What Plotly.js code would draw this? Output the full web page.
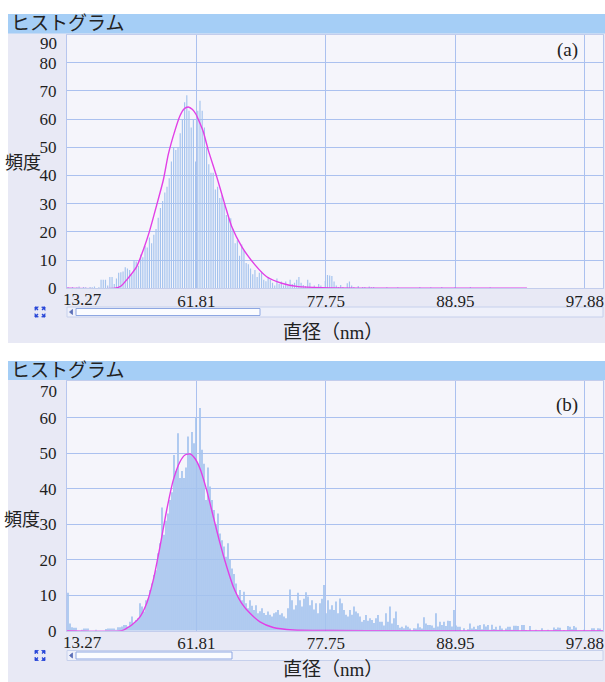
<!DOCTYPE html>
<html>
<head>
<meta charset="utf-8">
<script src="https://cdn.plot.ly/plotly-3.0.1.min.js"></script>
<style>
html,body{margin:0;padding:0;background:#ffffff;}
#chart{width:605px;height:682px;}
</style>
</head>
<body>
<div id="chart"></div>
<script>
// ---------- DATA ----------
// x tick labels: diameters (nm); the axis is linear in volume (d^3)
const tickDiameters = [13.27, 61.81, 77.75, 88.95, 97.88];
const tickLabels = ['13.27', '61.81', '77.75', '88.95', '97.88'];
const yTicksA = [0, 10, 20, 30, 40, 50, 60, 70, 80, 90];
const yTicksB = [0, 10, 20, 30, 40, 50, 60, 70];

// Panel (a): frequency per bin (bins evenly spaced on the volume axis)
const countsA = [
  0.4,0,0.5,0,0.4,0.6,0,0.5,0.4,0,0.5,0.4,0.6,0,0.4,
  3,3,3,1,4,4,1.5,3.5,5.5,5.7,6,7.5,7,6.5,5,
  10,9.5,8,12,11,15,14.5,18,16,19,21,25,28.5,31,34,
  36,39,45,50,49,50,55,60,66,68.5,63,57,60,45,63,
  66.5,63,57,50,44,41,41,35,36,32,33,30,26,25,24.8,
  21,16,17,11.5,15.5,13.5,9,8.5,7,5,6.5,4,5.5,6,3,
  2.5,4,3,2,1,3.5,1.5,2.4,1,2.4,1,3,1.5,2,3,
  4,2,1.2,0.8,3,2,0.5,1,0.5,1.5,1,0.5,2.6,4.7,4.5,
  4.4,2.4,1,0.5,1.2,0.5,0,1.8,2.4,1,0.5,0,0.8,0,0.5,
  0.5,0,0.6,0.4,0.5,0,0,0,0,0,0.4,0,0,0,0,
  0.4,0,0,0,0,0,0,0,0,0,0.5,0,0,0,0,
  0.4,0,0,0,0,0.5,0,0,0,0,0,0.4,0,0,0,
  0,0,0,0.5,0,0,0,0,0,0,0,0,0.4,0,0
];
// Panel (b): frequency per bin
const countsB = [
  10.7,2,1,0.8,0.8,0,0,0.3,0.6,0.6,0.6,0,0,0,0.3,0,0,0,0,0.5,
  0.6,0.6,0.6,0.6,0.3,1,1,1.2,1.6,1.6,1.2,2.5,4,2.2,3,3.5,7.7,6.8,5.4,8.6,
  9,11.5,13.3,15.7,17,21.8,24.6,34.7,27,31,33,36.8,39,49.5,45,55.6,43,45,43,46,
  54.7,50,56,52.8,60,47,62.7,51,47,36.8,46,40.6,36.8,34,30,33,27.4,25.5,23.7,20.8,
  24.6,19.9,17.5,16,13.3,9.6,11.5,8.6,11,7.7,6.3,8.6,7,5.8,7.2,4.9,5.5,6.3,5,4.4,
  5.4,4.5,4,4.9,5.2,5.8,4.5,4.9,4,3.5,6.3,11.6,8.6,6,7.2,10.7,8.6,6.8,9,10.8,
  9.6,7.2,8.6,6,7.7,4.9,7.7,9,12.9,4.9,8.6,6,7.2,5.8,8.2,4.9,9.1,7.7,5.8,4.5,
  4,5.8,4.5,6.8,5.4,4.9,4,2.5,3,4.4,2.8,3.5,3,2.2,3.5,4.4,2.5,2.5,1.5,4.9,
  2.5,6.8,2,3.5,5.4,1.6,0.8,1.1,0.7,1.5,1.1,0.6,0,0.7,0.6,2,1,0.6,3.8,2,
  1.6,1.6,1.5,0.8,4.9,1.2,2.5,1.6,2.5,1.3,2.8,2.7,1.2,5.8,1.5,1.1,1.1,0,0.7,0,
  0.4,2,0.6,1.1,0.5,1.4,1.6,0.4,1.8,1.2,1.6,0.3,1.7,0.5,1.1,0.3,1.4,0.6,0,0.6,
  1.1,1.1,0.3,1.4,1.4,1.3,0,1.6,1.6,0.2,0,1.3,0,0,0.3,0,0,0.7,0,0,
  0.3,0,0,0.9,0.5,0.9,0.8,0,0.2,0,1.3,1.1,0.4,1.3,0.9,0,0,0,0.3,0,
  0,0,0.7,0.7,0,0.7,0.6,0
];
// Fitted curves (x in volume units 10^3 nm^3, y frequency)
const fitAx = [2.3, 89.0, 100.0, 110.2, 128.2, 140.1, 151.0, 164.3, 176.3, 185.3, 197.4, 206.4, 213.6, 221.4, 229.0, 235.0, 242.5, 248.5, 257.5, 272.7, 287.7, 299.8, 317.9, 341.9, 363.0, 390.1, 420.1, 462.3, 531.5, 833.1];
const fitAy = [0, 0, 0.8, 3, 7.7, 13.6, 20, 29.5, 38.4, 47.5, 56, 61.2, 63.6, 64.3, 63.4, 61.8, 58.5, 55.5, 49, 39.6, 29.5, 21.9, 14.8, 8.3, 4.1, 1.8, 0.6, 0.2, 0.05, 0];
const fitBx = [2.3, 101.1, 110.2, 119.2, 134.2, 146.3, 158.2, 170.3, 182.4, 194.3, 206.4, 215.4, 224.5, 233.5, 242.5, 254.6, 266.6, 278.7, 290.8, 302.7, 317.9, 332.9, 350.9, 374.9, 411.0, 477.3, 603.8, 970.4];
const fitBy = [0, 0, 0.7, 1.6, 3.9, 7.7, 14.3, 23.7, 34, 42.4, 47.6, 49.5, 49.8, 48.5, 45.7, 39.6, 32.1, 24.6, 18, 12.4, 7.7, 4.9, 2.5, 0.9, 0.2, 0.05, 0, 0];

// ---------- LAYOUT HELPERS ----------
const W = 605, H = 682;
const PX = p => p / W;
const PY = p => 1 - p / H;
const tickVals = tickDiameters.map(d => d * d * d / 1000);
// the first label is drawn beside the left edge (annotation), like the reference
const tickText = tickLabels.map((t, i) => i === 0 ? '' : t);
const xRange = [2.337, 970.4];
const binA = 3.97, binB = 3.612;

const SERIF = 'Liberation Serif';
const CJK = 'Noto Sans CJK JP';
const numFont = {family: SERIF, size: 17, color: '#1e1e1e'};
const gridC = '#abc1ef';
const barC = '#a4c3ee';
const fitC = '#e23fe6';

function xAxis() {
  return {
    domain: [PX(67), PX(603)], range: xRange, type: 'linear',
    tickvals: tickVals, ticktext: tickText, tickfont: numFont, ticklabelstandoff: -3,
    showgrid: true, gridcolor: gridC, gridwidth: 1, zeroline: false,
    showline: true, linecolor: '#c3cdec', linewidth: 1, mirror: true,
    ticks: '', fixedrange: true
  };
}
// the topmost label sits inside the plot in the reference, so it is written as an annotation
function yAxis(dom, range, vals) {
  return {
    domain: dom, range: range, tickvals: vals.slice(0, -1), tickfont: numFont,
    showgrid: true, gridcolor: gridC, gridwidth: 1, zeroline: false,
    showline: true, linecolor: '#b7c6ee', linewidth: 1, mirror: true,
    ticks: 'outside', ticklen: 6, tickcolor: 'rgba(0,0,0,0)', fixedrange: true
  };
}

const traces = [
  {type: 'bar', x0: 2.337 + binA / 2, dx: binA, y: countsA, width: 2.1,
   marker: {color: barC, line: {width: 0}}, xaxis: 'x', yaxis: 'y', hoverinfo: 'skip'},
  {type: 'scatter', mode: 'lines', x: fitAx, y: fitAy, line: {color: fitC, width: 1.4, shape: 'spline', smoothing: 0.6},
   xaxis: 'x', yaxis: 'y', hoverinfo: 'skip'},
  {type: 'bar', x0: 2.337 + binB / 2, dx: binB, y: countsB, width: binB * 0.85,
   marker: {color: barC, line: {width: 0}}, xaxis: 'x2', yaxis: 'y2', hoverinfo: 'skip'},
  {type: 'scatter', mode: 'lines', x: fitBx, y: fitBy, line: {color: fitC, width: 1.4, shape: 'spline', smoothing: 0.6},
   xaxis: 'x2', yaxis: 'y2', hoverinfo: 'skip'}
];

function rect(x0, y0, x1, y1, fill, line, lw) {
  return {type: 'rect', xref: 'paper', yref: 'paper', x0: PX(x0), x1: PX(x1), y0: PY(y1), y1: PY(y0),
          fillcolor: fill, line: {color: line || fill, width: lw === undefined ? 0 : lw}, layer: 'below'};
}
function path(d, fill) {
  return {type: 'path', xref: 'paper', yref: 'paper', path: d, fillcolor: fill, line: {color: fill, width: 0.8}, layer: 'above'};
}
function P(x, y) { return PX(x).toFixed(5) + ',' + PY(y).toFixed(5); }
function icon(cx, cy) {
  const s = [];
  const a = 5, b = 2.4;
  [[-1,-1],[1,-1],[-1,1],[1,1]].forEach(([sx, sy]) => {
    const x = cx + sx * a, y = cy + sy * a;
    s.push(path('M' + P(x, y) + ' L' + P(x - sx * b * 1.4, y) + ' L' + P(x, y - sy * b * 1.4) + ' Z', '#2a48d8'));
    s.push({type: 'line', xref: 'paper', yref: 'paper', x0: PX(x), y0: PY(y), x1: PX(x - sx * 3), y1: PY(y - sy * 3),
            line: {color: '#2a48d8', width: 1.3}});
  });
  return s;
}
function scroll(yc, thumbEnd) {
  return [
    rect(67, yc - 5, 603, yc + 5, '#eef0fa', '#c6d0ec', 1),
    Object.assign(rect(76, yc - 3.5, thumbEnd, yc + 3.5, '#fbfcff', '#8ea7e2', 1), {layer: 'above'}),
    path('M' + P(69.5, yc) + ' L' + P(72.5, yc - 2.5) + ' L' + P(72.5, yc + 2.5) + ' Z', '#5a6fb8')
  ];
}

const shapes = [
  rect(8, 14, 605, 343, '#e8e9f5'),
  rect(8, 361, 605, 682, '#e8e9f5'),
  rect(8, 14, 605, 33.5, '#a5cef6'),
  rect(8, 361, 605, 380, '#a5cef6'),
  rect(67, 34.5, 603, 288.3, '#f5f5fb'),
  rect(67, 380.5, 603, 630.7, '#f5f5fb')
].concat(scroll(312, 260), scroll(655.5, 232), icon(40, 312), icon(40, 655.5));

function ann(text, x, y, size, family, xanchor) {
  return {text: text, xref: 'paper', yref: 'paper', x: PX(x), y: PY(y), showarrow: false,
          xanchor: xanchor || 'center', yanchor: 'middle', font: {family: family, size: size, color: '#222222'}};
}
const xTitle = '直径（<span style="font-family:Liberation Serif">nm</span>）';
const annotations = [
  ann('ヒストグラム', 9, 22, 19, CJK, 'left'),
  ann('ヒストグラム', 9, 368.5, 19, CJK, 'left'),
  ann(String(yTicksA[yTicksA.length - 1]), 58.5, 43.5, 17, SERIF, 'right'),
  ann(String(yTicksB[yTicksB.length - 1]), 58.5, 391, 17, SERIF, 'right'),
  ann(tickLabels[0], 61, 299.5, 17, SERIF, 'left'),
  ann(tickLabels[0], 61, 642, 17, SERIF, 'left'),
  ann('(a)', 580, 50, 19, SERIF, 'right'),
  ann('(b)', 580, 405, 19, SERIF, 'right'),
  ann('頻度', 23, 161, 18, CJK),
  ann('頻度', 22, 518, 18, CJK),
  ann(xTitle, 333, 330, 19, CJK),
  ann(xTitle, 333, 667.5, 19, CJK)
];

const layout = {
  width: W, height: H, autosize: false,
  margin: {l: 0, r: 0, t: 0, b: 0, pad: 0},
  paper_bgcolor: '#ffffff', plot_bgcolor: 'rgba(0,0,0,0)',
  showlegend: false, barmode: 'overlay',
  xaxis: Object.assign(xAxis(), {anchor: 'y'}),
  yaxis: Object.assign(yAxis([PY(288.3), PY(34.5)], [0, 90.0], yTicksA), {anchor: 'x'}),
  xaxis2: Object.assign(xAxis(), {anchor: 'y2'}),
  yaxis2: Object.assign(yAxis([PY(630.7), PY(380.5)], [0, 70.48], yTicksB), {anchor: 'x2'}),
  shapes: shapes,
  annotations: annotations
};

Plotly.newPlot('chart', traces, layout, {displayModeBar: false, staticPlot: true});
</script>
</body>
</html>
